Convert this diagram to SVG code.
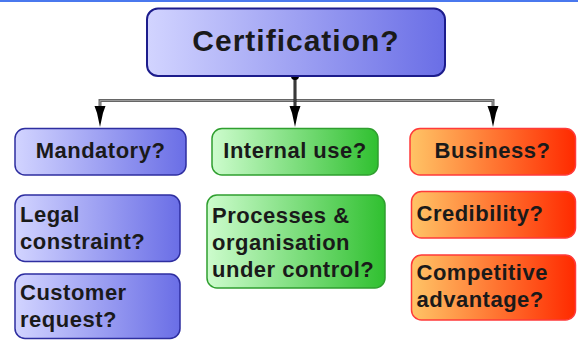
<svg xmlns="http://www.w3.org/2000/svg" width="578" height="340" viewBox="0 0 578 340">
<defs>
<linearGradient id="gBlue" x1="0" y1="0" x2="1" y2="0">
<stop offset="0" stop-color="#d2d4ff"/><stop offset="1" stop-color="#6a6ee6"/>
</linearGradient>
<linearGradient id="gGreen" x1="0" y1="0" x2="1" y2="0">
<stop offset="0" stop-color="#cdfccd"/><stop offset="1" stop-color="#30c030"/>
</linearGradient>
<linearGradient id="gOrange" x1="0" y1="0" x2="1" y2="0">
<stop offset="0" stop-color="#ffc466"/><stop offset="1" stop-color="#ff2a00"/>
</linearGradient>
</defs>
<style>
text{font-family:"Liberation Sans",Arial,sans-serif;font-weight:bold;fill:#1a1a1a;font-size:22px;letter-spacing:0.5px}
.c{text-anchor:middle}
.blue{fill:url(#gBlue);stroke:#2e2ea0;stroke-width:1.5}
.green{fill:url(#gGreen);stroke:#2f9f2f;stroke-width:1.5}
.orange{fill:url(#gOrange);stroke:#ff3a3a;stroke-width:1.5}
.outer{stroke:#666;stroke-width:3;fill:none}
.inner{stroke:#9a9a9a;stroke-width:1;fill:none}
.arr{fill:#000}
</style>
<rect x="0" y="0" width="578" height="2" fill="#4a78ee"/>
<g id="connectors">
<path class="outer" d="M100,109 V100.5 H493 V109"/>
<path class="inner" d="M100,109 V100.5 H493 V109"/>
<line x1="295" y1="76" x2="295" y2="110" stroke="#1e1e1e" stroke-width="3"/>
<line x1="295" y1="80" x2="295" y2="110" stroke="#555" stroke-width="1"/>
<circle cx="295" cy="76" r="4" fill="#000"/>
<polygon class="arr" points="94.5,106 105.5,106 103,113 100,127 97,113"/>
<polygon class="arr" points="289.5,106 300.5,106 298,113 295,127 292,113"/>
<polygon class="arr" points="487.5,106 498.5,106 496,113 493,127 490,113"/>
</g>
<g id="certification">
<rect x="147" y="8.5" width="298" height="67.5" rx="11" fill="url(#gBlue)" stroke="#1c1c8c" stroke-width="2"/>
<text class="c" x="296" y="51" style="font-size:30px;letter-spacing:1px">Certification?</text>
</g>
<g id="mandatory">
<rect class="blue" x="15" y="128.5" width="171" height="46.5" rx="10"/>
<text class="c" x="100.5" y="158">Mandatory?</text>
</g>
<g id="internal">
<rect class="green" x="212" y="128.5" width="166" height="46.5" rx="10"/>
<text class="c" x="295" y="158">Internal use?</text>
</g>
<g id="business">
<rect class="orange" x="410" y="128.5" width="165.5" height="46.5" rx="10"/>
<text class="c" x="492.5" y="158">Business?</text>
</g>
<g id="legal">
<rect class="blue" x="15" y="195" width="165" height="66.5" rx="10"/>
<text x="20" y="221.5">Legal</text>
<text x="20" y="249">constraint?</text>
</g>
<g id="customer">
<rect class="blue" x="15" y="274" width="165" height="64.5" rx="10"/>
<text x="20" y="300">Customer</text>
<text x="20" y="327">request?</text>
</g>
<g id="processes">
<rect class="green" x="207" y="195" width="178" height="93" rx="10"/>
<text x="212" y="223">Processes &amp;</text>
<text x="212" y="250">organisation</text>
<text x="212" y="277">under control?</text>
</g>
<g id="credibility">
<rect class="orange" x="411.5" y="191.5" width="164" height="46.5" rx="10"/>
<text x="416.5" y="221">Credibility?</text>
</g>
<g id="competitive">
<rect class="orange" x="411.5" y="255" width="164" height="65" rx="10"/>
<text x="416.5" y="280">Competitive</text>
<text x="416.5" y="307">advantage?</text>
</g>
</svg>
